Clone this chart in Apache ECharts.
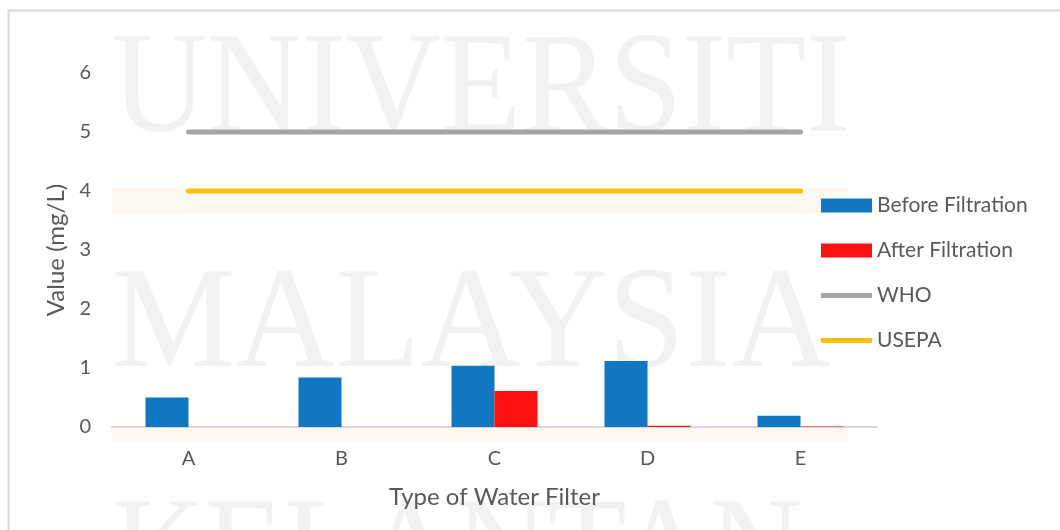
<!DOCTYPE html>
<html>
<head>
<meta charset="utf-8">
<script src="https://cdn.jsdelivr.net/npm/echarts@6/dist/echarts.min.js"></script>
<style>
  html, body { margin: 0; padding: 0; background: #fff; }
  #chart { width: 1060px; height: 530px; }
</style>
</head>
<body>
<div id="chart"></div>
<script>
// 数据
var categories = ['A', 'B', 'C', 'D', 'E'];
var beforeValues = [0.5, 0.84, 1.04, 1.12, 0.19];
var afterValues = [0, 0, 0.61, 0.02, 0.01];
var whoLimit = [5, 5, 5, 5, 5];
var usepaLimit = [4, 4, 4, 4, 4];
var yTicks = [0, 1, 2, 3, 4, 5, 6];

var chart = echarts.init(document.getElementById('chart'));

var textColor = '#595959';
var font = 'Lato';
// 图例里线条中间的小标记（和线同色，看不出来）
var flatIcon = 'path://M0,0 L10,0 L10,1 L0,1 Z';

// 背景水印
var watermark = [
  { type: 'text', left: 112, top: 22, z: -10, style: { text: 'UNIVERSITI', font: '143px "Liberation Serif"', fill: '#f2f2f2' }, scaleX: 0.92 },
  { type: 'text', left: 112, top: 257, z: -10, style: { text: 'MALAYSIA', font: '143px "Liberation Serif"', fill: '#f2f2f2' }, scaleX: 0.97 },
  { type: 'text', left: 112, top: 487, z: -10, style: { text: 'KELANTAN', font: '143px "Liberation Serif"', fill: '#f2f2f2' }, scaleX: 0.9 },
  { type: 'rect', left: 112, top: 188, z: -11, shape: { width: 736, height: 25 }, style: { fill: '#fef8f2' } },
  { type: 'rect', left: 112, top: 428, z: -11, shape: { width: 736, height: 14 }, style: { fill: '#fef8f2' } },
  { type: 'rect', left: 6, top: 8, z: -12, shape: { width: 1100, height: 600 }, style: { fill: 'none', stroke: '#d9d9d9', lineWidth: 2 } }
];

var option = {
  animation: false,
  textStyle: { fontFamily: font },
  graphic: watermark,
  grid: { left: 112, right: 183, top: 73, bottom: 103 },
  legend: {
    orient: 'vertical',
    left: 816,
    top: 190,
    itemWidth: 51,
    itemHeight: 14,
    itemGap: 24,
    textStyle: { color: textColor, fontSize: 21, fontFamily: font },
    lineStyle: { width: 5, cap: 'round' },
    data: [
      { name: 'Before Filtration', icon: 'rect' },
      { name: 'After Filtration', icon: 'rect' },
      { name: 'WHO', icon: flatIcon },
      { name: 'USEPA', icon: flatIcon }
    ]
  },
  xAxis: {
    type: 'category',
    data: categories,
    name: 'Type of Water Filter',
    nameLocation: 'middle',
    nameGap: 58,
    nameTextStyle: { color: textColor, fontSize: 24 },
    axisLine: { lineStyle: { color: '#d9d9d9', width: 2 } },
    axisTick: { show: false },
    axisLabel: { color: textColor, fontSize: 20, margin: 22 }
  },
  yAxis: {
    type: 'value',
    min: yTicks[0],
    max: yTicks[yTicks.length - 1],
    interval: 1,
    name: 'Value (mg/L)',
    nameLocation: 'middle',
    nameGap: 43,
    nameTextStyle: { color: textColor, fontSize: 24 },
    axisLine: { show: false },
    axisTick: { show: false },
    splitLine: { show: false },
    axisLabel: { color: textColor, fontSize: 20, margin: 21 }
  },
  series: [
    {
      name: 'Before Filtration',
      type: 'bar',
      data: beforeValues,
      barWidth: 43,
      barGap: '0%',
      itemStyle: { color: '#1277c2' }
    },
    {
      name: 'After Filtration',
      type: 'bar',
      data: afterValues,
      barWidth: 43,
      barGap: '0%',
      itemStyle: { color: '#ff1010' }
    },
    {
      name: 'WHO',
      type: 'line',
      data: whoLimit,
      symbol: 'none',
      itemStyle: { color: '#a5a5a5' },
      lineStyle: { color: '#a5a5a5', width: 5, cap: 'round' }
    },
    {
      name: 'USEPA',
      type: 'line',
      data: usepaLimit,
      symbol: 'none',
      itemStyle: { color: '#ffc000' },
      lineStyle: { color: '#ffc000', width: 5, cap: 'round' }
    }
  ]
};

chart.setOption(option);
</script>
</body>
</html>
